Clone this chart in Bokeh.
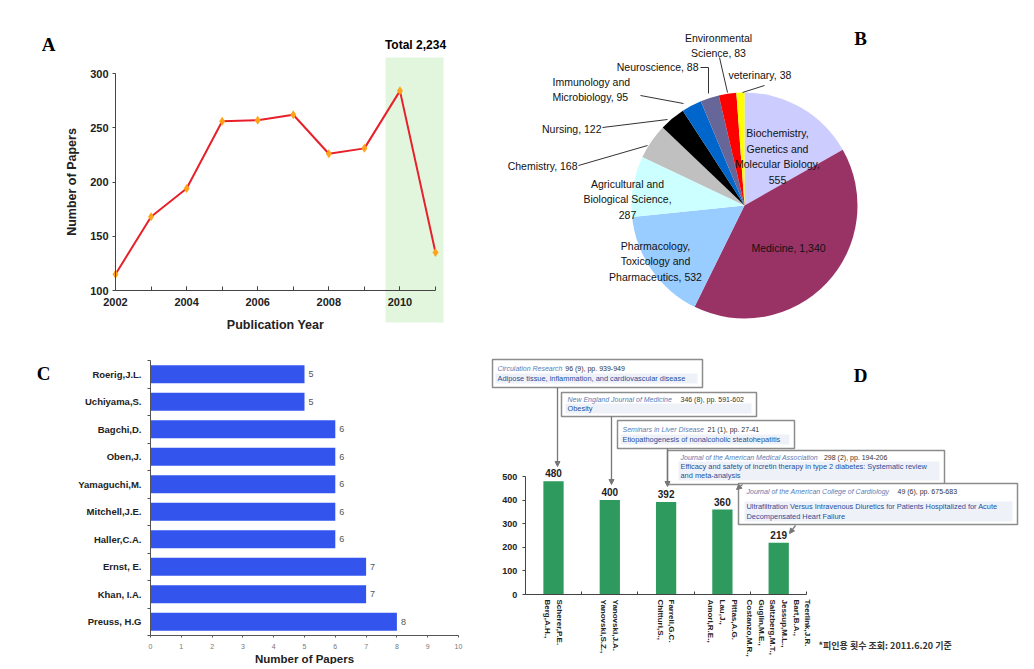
import numpy as np
from bokeh.plotting import figure
from bokeh.layouts import column, row
from bokeh.models import Range1d, FixedTicker, BoxAnnotation, Arrow, NormalHead, ColumnDataSource
from bokeh.core.properties import value
from bokeh.embed import file_html
from bokeh.resources import INLINE

# ---------------- data ----------------
# Panel A
years = [2002, 2003, 2004, 2005, 2006, 2007, 2008, 2009, 2010, 2011]
papers = [115, 168, 194, 256, 257, 262, 226, 231, 284, 135]
total_label = "Total 2,234"

# Panel B
subject_labels = [
    "Biochemistry,\nGenetics and\nMolecular Biology,\n555",
    "Medicine, 1,340",
    "Pharmacology,\nToxicology and\nPharmaceutics, 532",
    "Agricultural and\nBiological Science,\n287",
    "Chemistry, 168",
    "Nursing, 122",
    "Immunology and\nMicrobiology, 95",
    "Neuroscience, 88",
    "Environmental\nScience, 83",
    "veterinary, 38",
]
subject_counts = [555, 1340, 532, 287, 168, 122, 95, 88, 83, 38]
subject_colors = ["#CCCCFF", "#993366", "#99CCFF", "#CCFFFF", "#C0C0C0",
                  "#000000", "#0066CC", "#666699", "#FF0000", "#FFFF00"]

# Panel C (bottom to top)
authors = ["Preuss, H.G", "Khan, I.A.", "Ernst, E.", "Haller,C.A.", "Mitchell,J.E.",
           "Yamaguchi,M.", "Oben,J.", "Bagchi,D.", "Uchiyama,S.", "Roerig,J.L."]
author_papers = [8, 7, 7, 6, 6, 6, 6, 6, 5, 5]

# Panel D
cited_authors = [
    "Berg,A.H.,\nScherer,P.E.",
    "Yanovski,S.Z.,\nYanovski,J.A.",
    "Chitturi,S.,\nFarrell,G.C.",
    "Amori,R.E.,\nLau,J.,\nPittas,A.G.",
    "Costanzo,M.R.,\nGuglin,M.E.,\nSaltzberg,M.T.,\nJessup,M.L.,\nBart,B.A.,\nTeerlink,J.R.",
]
citations = [480, 400, 392, 360, 219]
journals = ["Circulation Research", "New England Journal of Medicine",
            "Seminars in Liver Disease", "Journal of the American Medical Association",
            "Journal of the American College of Cardiology"]
journal_refs = ["96 (9), pp. 939-949", "346 (8), pp. 591-602", "21 (1), pp. 27-41",
                "298 (2), pp. 194-206", "49 (6), pp. 675-683"]
paper_titles = [
    ["Adipose tissue, inflammation, and cardiovascular disease"],
    ["Obesity"],
    ["Etiopathogenesis of nonalcoholic steatohepatitis"],
    ["Efficacy and safety of incretin therapy in type 2 diabetes: Systematic review",
     "and meta-analysis"],
    ["Ultrafiltration Versus Intravenous Diuretics for Patients Hospitalized for Acute",
     "Decompensated Heart Failure"],
]
footnote = "*피인용 횟수 조회: 2011.6.20 기준"

SANS = "Liberation Sans"
SERIF = "Liberation Serif"
AXC = "#444444"

# panel placement on the page (px)
LEFT_W, RIGHT_W = 478, 552
TOP_H, BOT_H = 336, 328


def mapper(xref_pg, xref_v, xs, yref_pg, yref_v, ys):
    """page pixel -> data coordinates for one panel (layout helper)"""
    return lambda px, py: (xref_v + (px - xref_pg) / xs, yref_v + (yref_pg - py) / ys)


def base_fig(m, left, top, w, h):
    x0, y1 = m(left, top)
    x1, y0 = m(left + w, top + h)
    p = figure(output_backend="svg", toolbar_location=None, width=w, height=h,
               x_range=Range1d(x0, x1), y_range=Range1d(y0, y1), min_border=0)
    p.grid.visible = False
    p.outline_line_color = None
    return p


def ptext(p, m, px, py, txt, **kw):
    x, y = m(px, py)
    p.text(x=[x], y=[y], text=[txt], **kw)


# ======================= Panel A =======================
a_xy = mapper(115, 2002, 320 / 9.0, 290, 100, 217 / 200.0)
pa = base_fig(a_xy, 0, 0, LEFT_W, TOP_H)
bl, bt = a_xy(385, 57)
br, bb = a_xy(443, 322)
pa.add_layout(BoxAnnotation(left=bl, right=br, bottom=bb, top=bt, fill_color="#E2F6DE",
                            fill_alpha=1.0, line_color=None, level="underlay"))
pa.line(years, papers, line_color="#E8202A", line_width=2)
pa.scatter(years, papers, marker="diamond", size=9, fill_color="#FFA31A", line_color=None)

pa.xaxis.fixed_location = 100
pa.yaxis.fixed_location = 2002
pa.xaxis.ticker = FixedTicker(ticks=years[::2], minor_ticks=years)
pa.xaxis.bounds = (2002, 2011)
pa.yaxis.ticker = FixedTicker(ticks=[100, 150, 200, 250, 300], minor_ticks=[])
pa.yaxis.bounds = (100, 300)
pa.xaxis.major_tick_in = 4
pa.xaxis.major_tick_out = 0
pa.xaxis.minor_tick_in = 4
pa.xaxis.minor_tick_out = 0
pa.yaxis.major_tick_in = 0
pa.yaxis.major_tick_out = 3
pa.axis.axis_line_color = AXC
pa.axis.major_tick_line_color = AXC
pa.axis.minor_tick_line_color = AXC
pa.axis.major_label_text_font = SANS
pa.axis.major_label_text_font_style = "bold"
pa.axis.major_label_text_font_size = "11px"
pa.axis.major_label_text_color = "#222222"
pa.xaxis.major_label_standoff = 7
pa.yaxis.major_label_standoff = 4
pa.xaxis.axis_label = "Publication Year"
pa.yaxis.axis_label = "Number of Papers"
pa.axis.axis_label_text_font = SANS
pa.axis.axis_label_text_font_style = "bold"
pa.axis.axis_label_text_font_size = "12.5px"
pa.axis.axis_label_text_color = "#222222"
pa.xaxis.axis_label_standoff = 9
pa.yaxis.axis_label_standoff = 8
ptext(pa, a_xy, 48, 44, "A", text_align="center", text_baseline="middle",
      text_font=value(SERIF), text_font_style="bold", text_font_size="19px")
ptext(pa, a_xy, 415, 44, total_label, text_align="center", text_baseline="middle",
      text_font=value(SANS), text_font_style="bold", text_font_size="12px")

# ======================= Panel B =======================
b_xy = mapper(744, 0, 1.0, 205, 0, 1.0)
R = 113
pb = base_fig(b_xy, LEFT_W, 0, RIGHT_W, TOP_H)
pb.axis.visible = False
vals = np.array(subject_counts, dtype=float)
cum = np.concatenate([[0], np.cumsum(vals)]) / vals.sum() * 2 * np.pi
src_b = ColumnDataSource(dict(start=np.pi / 2 - cum[1:], end=np.pi / 2 - cum[:-1], color=subject_colors))
pb.wedge(x=0, y=0, radius=R, start_angle="start", end_angle="end", fill_color="color",
         line_color=None, source=src_b)

# label placement (offsets from pie centre in px) -- layout only
lab_pos = [(33, 49, "center"), (44, -42, "center"), (-89, -56, "center"), (-117, 6, "center"),
           (-167, 40, "right"), (-143, 77, "right"), (-192, 116, "left"), (-46, 139, "right"),
           (-26, 160, "center"), (-16, 131, "left")]
for lab, (dx, dy, al) in zip(subject_labels, lab_pos):
    pb.text(x=[dx], y=[dy], text=[lab], text_align=al, text_baseline="middle",
            text_font=value(SANS), text_font_size="10.5px", text_color="#111111",
            text_line_height=1.3)
leaders = [
    ([-166, -97], [40, 60]),
    ([-142, -77], [78, 86]),
    ([-104, -61], [110, 102]),
    ([-44, -36, -36], [138, 138, 112]),
    ([-25, -17], [148, 113]),
    ([20, -2], [120, 113]),
]
pb.multi_line([l[0] for l in leaders], [l[1] for l in leaders], line_color="#333333", line_width=1)
pb.text(x=[116], y=[167], text=["B"], text_align="center", text_baseline="middle",
        text_font=value(SERIF), text_font_style="bold", text_font_size="19px")

# ======================= Panel C =======================
c_xy = mapper(150, 0, 30.8, 360, 9.5, 27.5)
pc = base_fig(c_xy, 0, TOP_H, LEFT_W, BOT_H)
ypos = list(range(len(authors)))
pc.hbar(y=ypos, right=author_papers, left=0, height=0.66, fill_color="#3355EE", line_color=None)
pc.text(x=author_papers, y=ypos, text=[str(v) for v in author_papers], x_offset=4,
        text_baseline="middle", text_font=value(SANS), text_font_size="9px", text_color="#555555")
pc.xaxis.fixed_location = -0.5
pc.yaxis.fixed_location = 0
pc.xaxis.bounds = (0, 10)
pc.yaxis.bounds = (-0.5, 9.5)
pc.xaxis.ticker = FixedTicker(ticks=list(range(11)), minor_ticks=[])
pc.yaxis.ticker = FixedTicker(ticks=ypos, minor_ticks=[i + 0.5 for i in range(-1, 10)])
pc.yaxis.major_label_overrides = {i: a for i, a in enumerate(authors)}
pc.yaxis.major_tick_out = 0
pc.yaxis.major_tick_in = 0
pc.yaxis.minor_tick_out = 3
pc.yaxis.minor_tick_in = 0
pc.xaxis.major_tick_out = 2
pc.xaxis.major_tick_in = 0
pc.axis.axis_line_color = "#555555"
pc.axis.major_tick_line_color = "#555555"
pc.axis.minor_tick_line_color = "#555555"
pc.yaxis.major_label_text_font = SANS
pc.yaxis.major_label_text_font_style = "bold"
pc.yaxis.major_label_text_font_size = "9.5px"
pc.yaxis.major_label_text_color = "#222222"
pc.yaxis.major_label_standoff = 6
pc.xaxis.major_label_text_font = SANS
pc.xaxis.major_label_text_font_size = "7px"
pc.xaxis.major_label_text_color = "#777777"
pc.xaxis.major_label_standoff = 6
pc.xaxis.axis_label = "Number of Papers"
pc.xaxis.axis_label_text_font = SANS
pc.xaxis.axis_label_text_font_style = "bold"
pc.xaxis.axis_label_text_font_size = "11.5px"
pc.xaxis.axis_label_text_color = "#222222"
pc.xaxis.axis_label_standoff = 1
ptext(pc, c_xy, 43, 373, "C", text_align="center", text_baseline="middle",
      text_font=value(SERIF), text_font_style="bold", text_font_size="19px")

# ======================= Panel D =======================
d_xy = mapper(553, 0, 56.3, 594, 0, 0.236)
pd_ = base_fig(d_xy, LEFT_W, TOP_H, RIGHT_W, BOT_H)
xpos = list(range(len(citations)))
pd_.vbar(x=xpos, top=citations, width=0.36, fill_color="#2E9A5E", line_color=None)
pd_.text(x=xpos, y=citations, text=[str(v) for v in citations], y_offset=-4,
         text_align="center", text_baseline="bottom", text_font=value(SANS),
         text_font_style="bold", text_font_size="10px", text_color="#222222")
pd_.xaxis.fixed_location = 0
pd_.yaxis.fixed_location = -0.5
pd_.xaxis.ticker = FixedTicker(ticks=xpos, minor_ticks=[i + 0.5 for i in range(-1, 5)])
pd_.xaxis.bounds = (-0.5, 4.5)
# rotated multi-line labels: Bokeh stacks the lines right-to-left, so reverse for display
pd_.xaxis.major_label_overrides = {i: "\n".join(a.split("\n")[::-1]) for i, a in enumerate(cited_authors)}
pd_.xaxis.major_label_orientation = "vertical"
pd_.xaxis.major_tick_out = 0
pd_.xaxis.major_tick_in = 0
pd_.xaxis.minor_tick_out = 0
pd_.xaxis.minor_tick_in = 3
pd_.xaxis.major_label_text_font_size = "8px"
pd_.xaxis.major_label_text_line_height = 1.3
pd_.xaxis.major_label_standoff = 5
pd_.yaxis.ticker = FixedTicker(ticks=[0, 100, 200, 300, 400, 500], minor_ticks=[])
pd_.yaxis.bounds = (0, 500)
pd_.yaxis.major_tick_out = 3
pd_.yaxis.major_tick_in = 0
pd_.yaxis.major_label_text_font_size = "9px"
pd_.yaxis.major_label_standoff = 5
pd_.axis.major_label_text_font = SANS
pd_.axis.major_label_text_font_style = "bold"
pd_.axis.major_label_text_color = "#222222"
pd_.axis.axis_line_color = AXC
pd_.axis.major_tick_line_color = AXC
pd_.axis.minor_tick_line_color = AXC

# annotation boxes (page px: left, right, top, bottom, text x, refs x, line ys)
boxes = [
    (492, 702, 359, 387, 497, 560, [368, 378]),
    (561, 756, 392, 416, 567, 680, [399, 408]),
    (617, 794, 420, 448, 622, 707, [429, 439]),
    (667, 944, 450, 484, 680, 787, [457, 466, 475]),
    (738, 1017, 483, 524, 746, 897, [491, 506, 516]),
]
connectors = [
    ((557, 387), (557, 466)),
    ((611, 416), (611, 484)),
    ((667, 448), (667, 486)),
    ((742, 484), (736, 489)),
    ((795, 525), (789, 533)),
]
J_FS = 7.0
T_FS = 7.4
for (s, e) in connectors:
    x0, y0 = d_xy(*s)
    x1, y1 = d_xy(*e)
    pd_.add_layout(Arrow(x_start=x0, y_start=y0, x_end=x1, y_end=y1, line_color="#777777",
                         line_width=1.3, end=NormalHead(size=5, fill_color="#777777",
                                                        line_color="#777777")))
for i, (l, r, t, b, tx, rx, lys) in enumerate(boxes):
    L, T = d_xy(l, t)
    Rr, B = d_xy(r, b)
    pd_.quad(left=[L], right=[Rr], top=[T], bottom=[B], fill_color="#FFFFFF",
             line_color="#8C8C8C", line_width=1.5)
    hl, ht = d_xy(tx - 2, lys[1] - 5)
    hr, hb = d_xy(r - 5, lys[-1] + 5)
    pd_.quad(left=[hl], right=[hr], top=[ht], bottom=[hb], fill_color="#EEF2F8", line_color=None)
    ptext(pd_, d_xy, tx, lys[0], journals[i], text_baseline="middle", text_font=value(SANS),
          text_font_style="italic", text_font_size=f"{J_FS}px", text_color="#5A7DB5")
    tx2 = max(rx, tx + len(journals[i]) * 0.47 * J_FS + 2)
    ptext(pd_, d_xy, tx2, lys[0], journal_refs[i], text_baseline="middle", text_font=value(SANS),
          text_font_size=f"{J_FS}px", text_color="#333333")
    for line, ly_ in zip(paper_titles[i], lys[1:]):
        ptext(pd_, d_xy, tx, ly_, line, text_baseline="middle", text_font=value(SANS),
              text_font_size=f"{T_FS}px", text_color="#1F4E9A")

ptext(pd_, d_xy, 860, 375, "D", text_align="center", text_baseline="middle",
      text_font=value(SERIF), text_font_style="bold", text_font_size="19px")
ptext(pd_, d_xy, 818, 645, footnote, text_baseline="middle", text_font=value("Noto Sans CJK KR"),
      text_font_style="bold", text_font_size="9px", text_color="#333333")

layout = column(row(pa, pb), row(pc, pd_))
open("out.html", "w").write(file_html(layout, INLINE))
